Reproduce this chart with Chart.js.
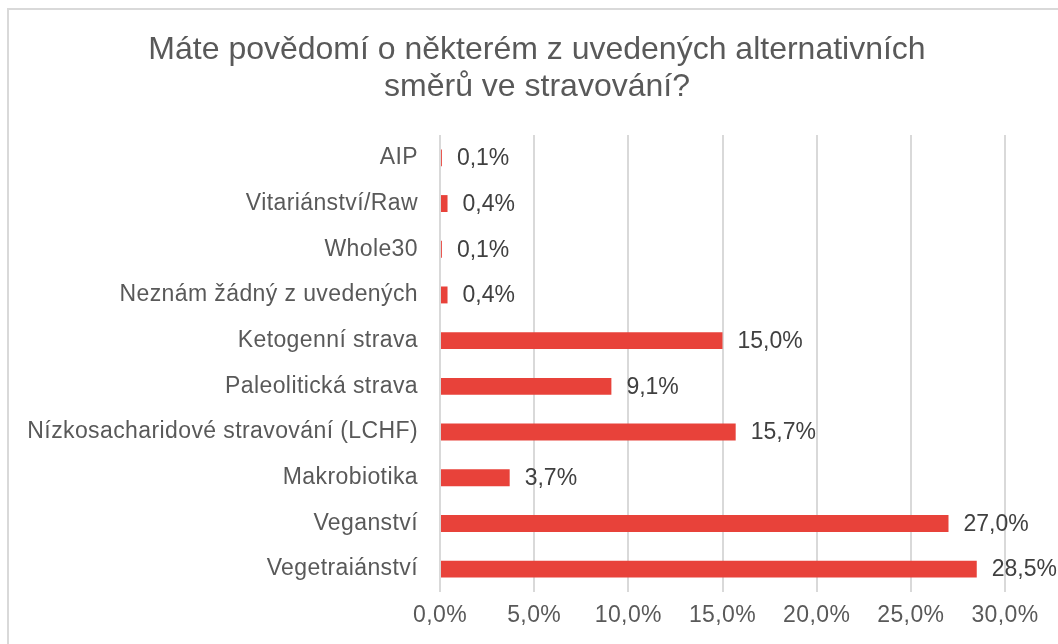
<!DOCTYPE html>
<html>
<head>
<meta charset="utf-8">
<script src="https://cdn.jsdelivr.net/npm/chart.js@4/dist/chart.umd.min.js"></script>
<style>
    html, body { margin: 0; padding: 0; background: #fff; }
    #wrap { width: 1058px; height: 644px; position: relative; }
</style>
</head>
<body>
<div id="wrap"><canvas id="chart" width="1058" height="644"></canvas></div>
<script>
const titleLines = ['Máte povědomí o některém z uvedených alternativních', 'směrů ve stravování?'];
const categories = [
    'AIP',
    'Vitariánství/Raw',
    'Whole30',
    'Neznám žádný z uvedených',
    'Ketogenní strava',
    'Paleolitická strava',
    'Nízkosacharidové stravování (LCHF)',
    'Makrobiotika',
    'Veganství',
    'Vegetraiánství'
];
const shares = [0.1, 0.4, 0.1, 0.4, 15.0, 9.1, 15.7, 3.7, 27.0, 28.5];
const xTicks = [0, 5, 10, 15, 20, 25, 30];

const FONT = '"Liberation Sans", Arial, sans-serif';
const fmt = v => v.toFixed(1).replace('.', ',') + '%';

// frame + title drawn by hand so the title sits centered on the page, not the plot
const framePlugin = {
    id: 'frameAndTitle',
    beforeDraw(chart) {
        const ctx = chart.ctx;
        ctx.save();
        ctx.strokeStyle = '#d9d9d9';
        ctx.lineWidth = 2;
        ctx.strokeRect(8, 9, 1200, 1000);
        ctx.restore();
        ctx.letterSpacing = '0.4px';
    },
    afterDraw(chart) {
        const ctx = chart.ctx;
        ctx.save();
        ctx.letterSpacing = '0px';
        ctx.fillStyle = '#595959';
        ctx.font = '32px ' + FONT;
        ctx.textAlign = 'center';
        ctx.textBaseline = 'alphabetic';
        ctx.fillText(titleLines[0], 537, 59);
        ctx.fillText(titleLines[1], 537, 96);
        ctx.restore();
    }
};

const valueLabels = {
    id: 'valueLabels',
    afterDatasetsDraw(chart) {
        const ctx = chart.ctx;
        const meta = chart.getDatasetMeta(0);
        ctx.save();
        ctx.letterSpacing = '0px';
        ctx.fillStyle = '#404040';
        ctx.font = '23px ' + FONT;
        ctx.textAlign = 'left';
        ctx.textBaseline = 'middle';
        meta.data.forEach((bar, i) => {
            ctx.fillText(fmt(shares[i]), bar.x + 15, bar.y + 1);
        });
        ctx.restore();
    }
};

new Chart(document.getElementById('chart').getContext('2d'), {
    type: 'bar',
    data: {
        labels: categories,
        datasets: [{
            data: shares,
            backgroundColor: '#e8423a',
            borderWidth: 0,
            barPercentage: 0.37,
            categoryPercentage: 1
        }]
    },
    options: {
        indexAxis: 'y',
        responsive: false,
        animation: false,
        layout: { padding: { top: 135, right: 53, bottom: 0, left: 0 } },
        plugins: {
            legend: { display: false },
            title: { display: false },
            tooltip: { enabled: false }
        },
        scales: {
            x: {
                min: 0,
                max: 30,
                afterBuildTicks: scale => { scale.ticks = xTicks.map(v => ({ value: v })); },
                afterFit: scale => { scale.height = 52; },
                grid: { color: '#d9d9d9', lineWidth: 2, drawTicks: false },
                border: { display: false },
                ticks: {
                    padding: 10,
                    color: '#595959',
                    font: { size: 23, family: FONT },
                    callback: v => fmt(v)
                }
            },
            y: {
                afterFit: scale => { scale.width = 440; },
                grid: { display: false, drawTicks: false },
                border: { display: false },
                ticks: {
                    padding: 22,
                    color: '#595959',
                    font: { size: 23, family: FONT }
                }
            }
        }
    },
    plugins: [framePlugin, valueLabels]
});
</script>
</body>
</html>
